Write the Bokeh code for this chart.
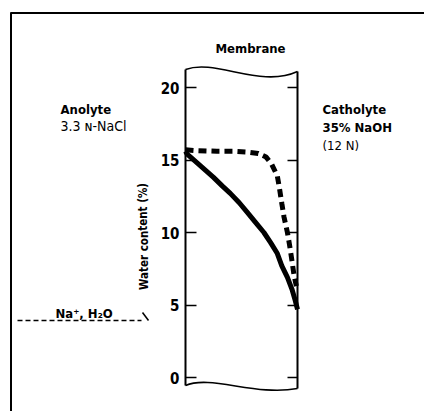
from bokeh.plotting import figure
from bokeh.models import Range1d, LinearAxis, FixedTicker
from bokeh.core.properties import value
from bokeh.embed import file_html
from bokeh.resources import INLINE

# ---- data (position across membrane: 0 = anolyte side, 1 = catholyte side) ----
solid_pos = [0.0, 0.015, 0.134, 0.25, 0.33, 0.40, 0.48, 0.55, 0.625, 0.70, 0.76, 0.82, 0.86, 0.91, 0.95, 0.98, 1.0]
solid_water = [15.6, 15.4, 14.6, 13.8, 13.2, 12.7, 12.05, 11.4, 10.7, 10.0, 9.3, 8.55, 7.7, 6.9, 6.1, 5.3, 4.7]
dashed_pos = [0.0, 0.09, 0.28, 0.44, 0.55, 0.65, 0.72, 0.77, 0.82, 0.84, 0.86, 0.88, 0.91, 0.93, 0.95, 0.97, 0.99]
dashed_water = [15.7, 15.65, 15.6, 15.6, 15.55, 15.45, 15.2, 14.7, 13.9, 13.0, 12.0, 11.05, 10.0, 9.1, 8.07, 7.0, 6.3]
y_ticks = [0, 5, 10, 15, 20]

# ---- layout constants (page pixels) ----
W, H = 424, 411
OX, OY = 0, 0
MX0, MX1 = 185.0, 297.0     # membrane edges
Y0PX, Y20PX = 377.0, 87.0   # water content 0 and 20
KX = MX1 - MX0
KY = (Y0PX - Y20PX) / 20.0

def fx(px):
    return (px - MX0) / KX

def fy(py):
    return (Y0PX - py) / KY

FONT = "DejaVu Sans Condensed"

p = figure(width=W, height=H, output_backend="svg", toolbar_location=None,
           x_range=Range1d(fx(OX), fx(OX + W)), y_range=Range1d(fy(OY + H), fy(OY)),
           min_border=0, x_axis_type=None, y_axis_type=None)
p.outline_line_color = None
p.grid.visible = False
p.background_fill_color = "white"

# outer frame (top and left border)
p.line([fx(10), fx(OX + W)], [fy(12.5), fy(12.5)], line_color="black", line_width=2)
p.line([fx(10.5), fx(10.5)], [fy(12), fy(OY + H)], line_color="black", line_width=2)

# membrane outline: edges + wavy top/bottom
p.line([0, 0], [fy(69), fy(385)], line_color="black", line_width=2)
p.line([1, 1], [fy(71), fy(388)], line_color="black", line_width=2)
p.bezier(x0=[fx(185)], y0=[fy(69)], x1=[fx(297)], y1=[fy(71)],
         cx0=[fx(215)], cy0=[fy(58)], cx1=[fx(260)], cy1=[fy(88)],
         line_color="black", line_width=1.6)
p.bezier(x0=[fx(185)], y0=[fy(385)], x1=[fx(297)], y1=[fy(388)],
         cx0=[fx(210)], cy0=[fy(374)], cx1=[fx(255)], cy1=[fy(396)],
         line_color="black", line_width=1.6)

# axes on both membrane faces
left_ax = LinearAxis(fixed_location=0, ticker=FixedTicker(ticks=y_ticks))
left_ax.axis_line_color = None
left_ax.major_tick_in = 11
left_ax.major_tick_out = 0
left_ax.minor_tick_line_color = None
left_ax.major_tick_line_width = 1.6
left_ax.major_label_standoff = 6
left_ax.major_label_text_font = FONT
left_ax.major_label_text_font_style = "bold"
left_ax.major_label_text_font_size = "15px"
left_ax.major_label_text_color = "black"
p.add_layout(left_ax, "left")

right_ax = LinearAxis(fixed_location=1, ticker=FixedTicker(ticks=y_ticks))
right_ax.axis_line_color = None
right_ax.major_tick_in = 10
right_ax.major_tick_out = 0
right_ax.minor_tick_line_color = None
right_ax.major_tick_line_width = 1.6
right_ax.major_label_text_color = None
p.add_layout(right_ax, "right")

# curves
p.line(dashed_pos, dashed_water, line_color="black", line_width=5, line_dash="8 5")
p.line(solid_pos, solid_water, line_color="black", line_width=5, line_join="round")

def txt(x, y, s, size, style="bold", align="left", angle=0.0, baseline="alphabetic"):
    p.text(x=[x], y=[y], text=[s], text_font=value(FONT), text_font_size=size,
           text_font_style=style, text_align=align, text_baseline=baseline,
           angle=angle, text_color="black")

txt(fx(250), fy(48), "Membrane", "13px", align="center")
txt(fx(60), fy(109), "Anolyte", "13px")
txt(fx(60), fy(125), "3.3 ɴ-NaCl", "14px", style="normal")
txt(fx(322), fy(109), "Catholyte", "13px")
txt(fx(322), fy(127), "35% NaOH", "13px")
txt(fx(322), fy(145), "(12 N)", "13px", style="normal")
txt(fx(143), fy(236), "Water content (%)", "11.5px", align="center", angle=1.5708, baseline="middle")
txt(fx(55), fy(313), "Na⁺, H₂O", "13px")

# flux arrow
p.line([fx(17), fx(141)], [fy(320), fy(320)], line_color="black", line_width=1.5, line_dash="5 3")
p.line([fx(142), fx(148)], [fy(312), fy(320)], line_color="black", line_width=1.5)

open("out.html", "w").write(file_html(p, INLINE))
